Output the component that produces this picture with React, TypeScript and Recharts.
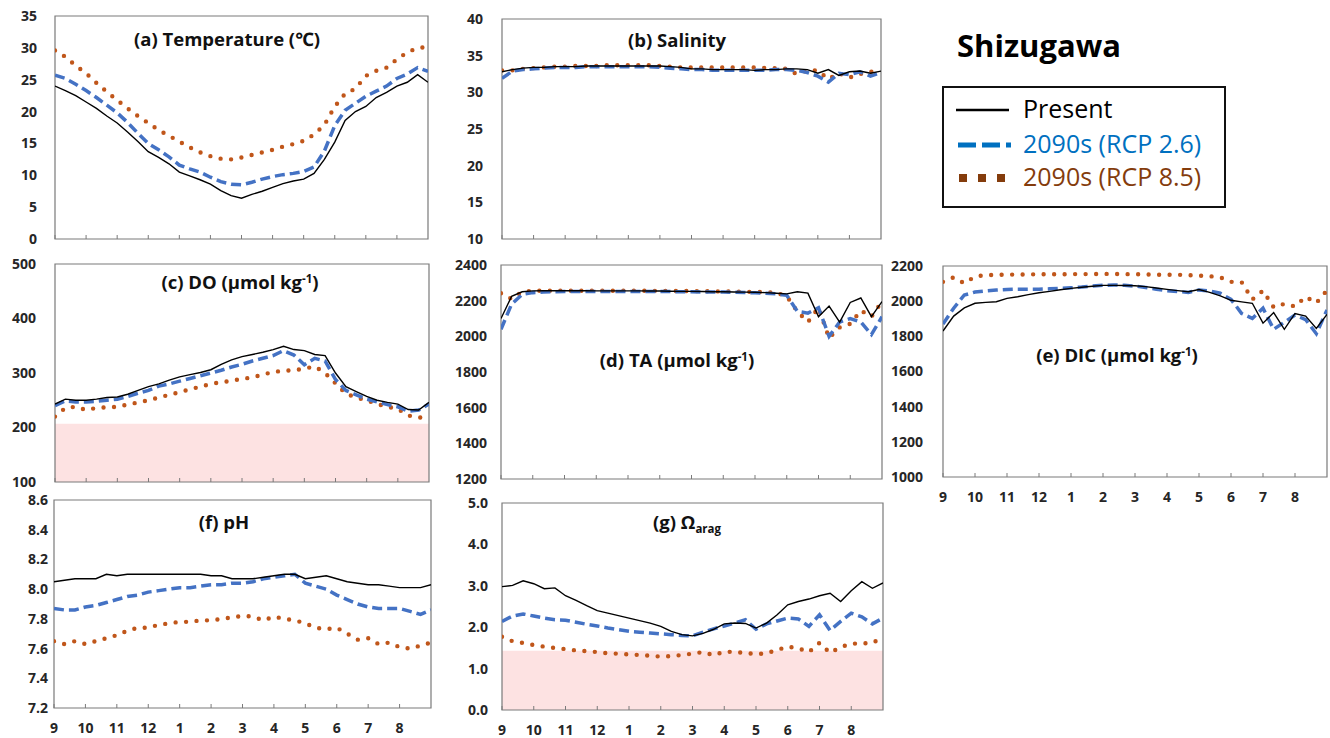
import React from 'react';
import { LineChart, Line, XAxis, YAxis, ReferenceArea } from 'recharts';

// months from September to August; one value every third of a month
const monthLabels = ['9', '10', '11', '12', '1', '2', '3', '4', '5', '6', '7', '8'];
const monthTicks = [0, 1, 2, 3, 4, 5, 6, 7, 8, 9, 10, 11];

const tempPresent = [24.0, 23.3, 22.5, 21.5, 20.5, 19.3, 18.2, 16.8, 15.3, 13.7, 12.8, 11.8, 10.5, 9.9, 9.3, 8.6, 7.6, 6.8, 6.4, 7.0, 7.5, 8.1, 8.7, 9.1, 9.4, 10.3, 12.5, 15.2, 18.6, 20.0, 20.8, 22.2, 23.0, 24.0, 24.6, 25.8, 24.6];
const tempRcp26 = [25.7, 25.2, 24.3, 23.3, 22.2, 21.0, 19.8, 18.3, 16.6, 15.0, 14.0, 12.9, 11.6, 11.0, 10.5, 9.7, 9.0, 8.6, 8.5, 8.9, 9.4, 9.8, 10.1, 10.3, 10.6, 11.3, 13.8, 17.8, 20.2, 21.3, 22.4, 23.2, 24.0, 25.2, 25.9, 26.9, 26.3];
const tempRcp85 = [29.6, 28.6, 27.2, 26.0, 24.5, 23.1, 21.8, 20.5, 19.3, 18.2, 17.1, 16.2, 15.3, 14.4, 13.6, 13.0, 12.6, 12.5, 12.8, 13.2, 13.6, 14.0, 14.5, 14.9, 15.4, 16.4, 17.9, 20.8, 22.8, 23.6, 25.6, 26.4, 26.9, 28.2, 29.3, 30.0, 30.1];

const salPresent = [32.8, 33.1, 33.3, 33.4, 33.4, 33.5, 33.5, 33.5, 33.6, 33.6, 33.6, 33.6, 33.6, 33.6, 33.6, 33.6, 33.5, 33.4, 33.2, 33.2, 33.1, 33.1, 33.1, 33.1, 33.0, 33.1, 33.1, 33.2, 33.2, 33.1, 32.6, 33.1, 32.3, 32.8, 32.9, 32.6, 32.9];
const salRcp26 = [31.9, 32.9, 33.1, 33.2, 33.3, 33.4, 33.4, 33.4, 33.5, 33.5, 33.5, 33.5, 33.5, 33.5, 33.5, 33.4, 33.3, 33.2, 33.1, 33.1, 33.0, 33.0, 33.0, 33.0, 33.0, 33.0, 33.1, 33.1, 33.0, 32.7, 32.2, 31.4, 32.6, 32.4, 32.8, 32.2, 32.7];
const salRcp85 = [33.0, 33.0, 33.2, 33.3, 33.4, 33.5, 33.5, 33.6, 33.6, 33.6, 33.7, 33.7, 33.7, 33.7, 33.7, 33.6, 33.5, 33.4, 33.4, 33.4, 33.4, 33.4, 33.4, 33.4, 33.4, 33.3, 33.3, 33.2, 32.5, 33.0, 33.0, 31.8, 32.6, 32.0, 32.5, 32.8, 33.1];

const doPresent = [243, 252, 250, 250, 252, 255, 256, 261, 268, 275, 280, 287, 293, 297, 301, 306, 316, 324, 330, 334, 338, 343, 349, 343, 341, 334, 332, 300, 275, 266, 257, 250, 246, 243, 233, 232, 246];
const doRcp26 = [240, 249, 247, 247, 248, 250, 252, 257, 263, 268, 276, 280, 285, 290, 295, 300, 305, 311, 316, 322, 327, 332, 341, 333, 315, 327, 322, 288, 268, 260, 252, 247, 242, 238, 230, 232, 243];
const doRcp85 = [220, 236, 238, 232, 236, 237, 238, 242, 246, 250, 255, 260, 265, 270, 275, 280, 283, 286, 289, 292, 297, 302, 304, 305, 308, 312, 300, 281, 262, 255, 250, 243, 238, 234, 222, 218, 220];
const doLimit = 207;

const taPresent = [2100, 2224, 2250, 2255, 2256, 2256, 2256, 2256, 2256, 2255, 2255, 2255, 2255, 2255, 2254, 2254, 2253, 2252, 2252, 2251, 2250, 2250, 2249, 2248, 2247, 2245, 2242, 2238, 2250, 2242, 2110, 2170, 2080, 2190, 2215, 2110, 2195];
const taRcp26 = [2040, 2180, 2235, 2245, 2248, 2250, 2251, 2252, 2252, 2252, 2252, 2252, 2252, 2252, 2252, 2252, 2251, 2250, 2250, 2249, 2248, 2248, 2247, 2246, 2244, 2242, 2238, 2230, 2140, 2130, 2160, 2000, 2080, 2100, 2080, 2010, 2110];
const taRcp85 = [2242, 2210, 2250, 2255, 2256, 2256, 2256, 2256, 2256, 2256, 2256, 2256, 2256, 2256, 2255, 2255, 2255, 2254, 2254, 2253, 2252, 2252, 2251, 2250, 2249, 2248, 2245, 2225, 2140, 2080, 2160, 1990, 2050, 2070, 2145, 2110, 2195];

const dicPresent = [1830, 1915, 1962, 1988, 1993, 1997, 2016, 2025, 2037, 2048, 2056, 2065, 2073, 2079, 2085, 2090, 2090, 2089, 2088, 2083, 2075, 2067, 2060, 2054, 2066, 2050, 2030, 2005, 1996, 1988, 1875, 1935, 1840, 1930, 1915, 1845, 1925];
const dicRcp26 = [1870, 1960, 2035, 2052, 2058, 2063, 2066, 2068, 2068, 2068, 2070, 2073, 2076, 2080, 2086, 2090, 2092, 2090, 2086, 2078, 2068, 2060, 2055, 2050, 2064, 2058, 2045, 2010, 1930, 1902, 1960, 1840, 1880, 1921, 1895, 1815, 1950];
const dicRcp85 = [2110, 2135, 2102, 2140, 2148, 2150, 2150, 2152, 2152, 2153, 2153, 2153, 2154, 2154, 2154, 2155, 2155, 2154, 2153, 2152, 2150, 2150, 2150, 2148, 2145, 2142, 2135, 2110, 2108, 2010, 2060, 1965, 1985, 1970, 2025, 1990, 2062];

const phPresent = [8.05, 8.06, 8.07, 8.07, 8.07, 8.10, 8.09, 8.10, 8.10, 8.10, 8.10, 8.10, 8.10, 8.10, 8.10, 8.09, 8.09, 8.07, 8.07, 8.07, 8.08, 8.09, 8.10, 8.10, 8.07, 8.08, 8.09, 8.07, 8.05, 8.04, 8.03, 8.03, 8.02, 8.01, 8.01, 8.01, 8.03];
const phRcp26 = [7.87, 7.86, 7.86, 7.88, 7.89, 7.91, 7.93, 7.95, 7.96, 7.98, 7.99, 8.00, 8.01, 8.01, 8.02, 8.03, 8.03, 8.04, 8.04, 8.05, 8.07, 8.08, 8.09, 8.10, 8.04, 8.02, 8.00, 7.96, 7.93, 7.90, 7.88, 7.87, 7.87, 7.87, 7.85, 7.83, 7.86];
const phRcp85 = [7.65, 7.63, 7.65, 7.63, 7.65, 7.67, 7.69, 7.72, 7.74, 7.74, 7.76, 7.77, 7.78, 7.78, 7.79, 7.79, 7.80, 7.81, 7.82, 7.815, 7.79, 7.815, 7.80, 7.79, 7.77, 7.74, 7.73, 7.74, 7.70, 7.66, 7.67, 7.63, 7.64, 7.61, 7.60, 7.62, 7.64];

const omegaPresent = [2.98, 3.01, 3.12, 3.05, 2.93, 2.95, 2.76, 2.65, 2.52, 2.40, 2.34, 2.28, 2.22, 2.16, 2.10, 2.02, 1.90, 1.82, 1.79, 1.85, 1.95, 2.08, 2.10, 2.09, 1.98, 2.10, 2.30, 2.54, 2.62, 2.68, 2.76, 2.82, 2.62, 2.88, 3.10, 2.94, 3.07];
const omegaRcp26 = [2.14, 2.27, 2.32, 2.27, 2.22, 2.18, 2.17, 2.12, 2.07, 2.03, 1.98, 1.94, 1.90, 1.88, 1.86, 1.84, 1.82, 1.80, 1.79, 1.88, 1.96, 2.03, 2.10, 2.18, 1.95, 2.08, 2.15, 2.22, 2.20, 2.02, 2.30, 1.92, 2.14, 2.34, 2.25, 2.08, 2.22];
const omegaRcp85 = [1.77, 1.66, 1.62, 1.57, 1.53, 1.50, 1.47, 1.44, 1.42, 1.40, 1.37, 1.36, 1.34, 1.33, 1.31, 1.29, 1.30, 1.33, 1.36, 1.40, 1.32, 1.41, 1.40, 1.38, 1.35, 1.37, 1.45, 1.53, 1.49, 1.40, 1.62, 1.38, 1.52, 1.60, 1.61, 1.62, 1.76];
const omegaLimit = 1.43;

const FONT = '"Open Sans", "Noto Sans", "DejaVu Sans", sans-serif';
const BLUE = '#4472c4';
const BROWN = '#c0561a';
const FRAME = '#7a7a7a';

type Row = { m: number; present: number; rcp26: number; rcp85: number };

const buildRows = (p: number[], b: number[], r: number[]): Row[] =>
  p.map((v, i) => ({ m: i / 3, present: v, rcp26: b[i], rcp85: r[i] }));

interface PanelProps {
  rows: Row[];
  box: [number, number, number, number]; // left, top, right, bottom of the plot area
  yDomain: [number, number];
  yTicks: number[];
  decimals?: number;
  labelGap: number;
  showMonths?: boolean;
  shade?: number;
}

const Panel = ({ rows, box, yDomain, yTicks, decimals = 0, labelGap, showMonths = false, shade }: PanelProps) => {
  const padL = 60, padT = 12, padR = 6, padB = 34;
  const [l, t, r, b] = box;
  const tickStyle = { fontSize: 14, fontWeight: 700, fill: '#262626', fontFamily: FONT };
  return (
    <div style={{ position: 'absolute', left: l - padL, top: t - padT }}>
      <LineChart
        width={r - l + padL + padR}
        height={b - t + padT + padB}
        data={rows}
        margin={{ top: padT, right: padR, left: 0, bottom: 0 }}
      >
        <XAxis
          type="number"
          dataKey="m"
          domain={[0, 12]}
          ticks={monthTicks}
          interval={0}
          height={padB}
          tickSize={-4}
          tickMargin={19}
          axisLine={false}
          tickLine={{ stroke: FRAME }}
          tick={tickStyle}
          tickFormatter={(v: number) => (showMonths ? monthLabels[v] : '')}
          allowDataOverflow
        />
        <YAxis
          type="number"
          domain={yDomain}
          ticks={yTicks}
          interval={0}
          width={padL}
          tickSize={0}
          tickMargin={labelGap}
          axisLine={false}
          tickLine={false}
          tick={tickStyle}
          tickFormatter={(v: number) => v.toFixed(decimals)}
          allowDataOverflow
        />
        {shade !== undefined && (
          <ReferenceArea x1={0} x2={12} y1={yDomain[0]} y2={shade} fill="#fde2e2" fillOpacity={1} stroke="none" />
        )}
        <Line type="linear" dataKey="rcp85" stroke={BROWN} strokeWidth={4.4} strokeDasharray="0 10.5" strokeLinecap="round" dot={false} isAnimationActive={false} />
        <Line type="linear" dataKey="rcp26" stroke={BLUE} strokeWidth={3.5} strokeDasharray="10 5" dot={false} isAnimationActive={false} />
        <Line type="linear" dataKey="present" stroke="#000" strokeWidth={1.4} dot={false} isAnimationActive={false} />
        <ReferenceArea x1={0} x2={12} y1={yDomain[0]} y2={yDomain[1]} fill="none" stroke={FRAME} strokeWidth={1.2} />
      </LineChart>
    </div>
  );
};

const Title = ({ x, y, children }: { x: number; y: number; children: React.ReactNode }) => (
  <div
    style={{
      position: 'absolute', left: x, top: y, transform: 'translate(-50%, -50%)',
      fontFamily: FONT, fontWeight: 700, fontSize: 18.5, whiteSpace: 'nowrap', color: '#111', lineHeight: 1,
    }}
  >
    {children}
  </div>
);

const Sup = ({ children }: { children: React.ReactNode }) => (
  <span style={{ fontSize: '0.62em', position: 'relative', top: '-0.55em' }}>{children}</span>
);
const Sub = ({ children }: { children: React.ReactNode }) => (
  <span style={{ fontSize: '0.62em', position: 'relative', top: '0.35em' }}>{children}</span>
);

const Legend = () => (
  <div
    style={{
      position: 'absolute', left: 942, top: 86, width: 280, height: 118,
      border: '2.5px solid #111', background: '#fff', fontFamily: FONT, fontSize: 25, lineHeight: 'normal',
    }}
  >
    <svg width={60} height={118} style={{ position: 'absolute', left: 10, top: 0 }}>
      <line x1={2} x2={55} y1={22} y2={22} stroke="#000" strokeWidth={2.5} />
      <line x1={4} x2={57} y1={57} y2={57} stroke="#0070c0" strokeWidth={5} strokeDasharray="18 6" />
      <line x1={5} x2={55} y1={90} y2={90} stroke="#843c0c" strokeWidth={8} strokeDasharray="8 11" />
    </svg>
    <div style={{ position: 'absolute', left: 79, top: 3, color: '#000' }}>Present</div>
    <div style={{ position: 'absolute', left: 79, top: 38, color: '#0070c0' }}>2090s (RCP 2.6)</div>
    <div style={{ position: 'absolute', left: 79, top: 71, color: '#843c0c' }}>2090s (RCP 8.5)</div>
  </div>
);

export default function App() {
  return (
    <div style={{ position: 'absolute', left: 0, top: 0, width: 1330, height: 738, background: '#fff', overflow: 'hidden' }}>
      <Panel rows={buildRows(tempPresent, tempRcp26, tempRcp85)} box={[55, 16, 428, 239]} yDomain={[0, 35]} yTicks={[0, 5, 10, 15, 20, 25, 30, 35]} labelGap={18} />
      <Panel rows={buildRows(salPresent, salRcp26, salRcp85)} box={[502, 19, 881, 239]} yDomain={[10, 40]} yTicks={[10, 15, 20, 25, 30, 35, 40]} labelGap={19} />
      <Panel rows={buildRows(doPresent, doRcp26, doRcp85)} box={[55, 264, 429, 482]} yDomain={[100, 500]} yTicks={[100, 200, 300, 400, 500]} labelGap={19} shade={doLimit} />
      <Panel rows={buildRows(taPresent, taRcp26, taRcp85)} box={[501, 265, 882, 479]} yDomain={[1200, 2400]} yTicks={[1200, 1400, 1600, 1800, 2000, 2200, 2400]} labelGap={14} />
      <Panel rows={buildRows(dicPresent, dicRcp26, dicRcp85)} box={[943, 266, 1327, 477]} yDomain={[1000, 2200]} yTicks={[1000, 1200, 1400, 1600, 1800, 2000, 2200]} labelGap={20} showMonths />
      <Panel rows={buildRows(phPresent, phRcp26, phRcp85)} box={[54, 500, 431, 708]} yDomain={[7.2, 8.6]} yTicks={[7.2, 7.4, 7.6, 7.8, 8.0, 8.2, 8.4, 8.6]} decimals={1} labelGap={6} showMonths />
      <Panel rows={buildRows(omegaPresent, omegaRcp26, omegaRcp85)} box={[502, 503, 883, 710]} yDomain={[0, 5]} yTicks={[0, 1, 2, 3, 4, 5]} decimals={1} labelGap={14} showMonths shade={omegaLimit} />

      <Title x={227} y={39}>(a) Temperature (℃)</Title>
      <Title x={677} y={40}>(b) Salinity</Title>
      <Title x={240} y={282}>(c) DO (μmol kg<Sup>-1</Sup>)</Title>
      <Title x={677} y={360}>(d) TA (μmol kg<Sup>-1</Sup>)</Title>
      <Title x={1117} y={355}>(e) DIC (μmol kg<Sup>-1</Sup>)</Title>
      <Title x={224} y={522}>(f) pH</Title>
      <Title x={687} y={522}>(g) Ω<Sub>arag</Sub></Title>

      <div style={{ position: 'absolute', left: 957, top: 27, fontFamily: FONT, fontWeight: 700, fontSize: 31, color: '#000', lineHeight: 1.2 }}>
        Shizugawa
      </div>
      <Legend />
    </div>
  );
}
